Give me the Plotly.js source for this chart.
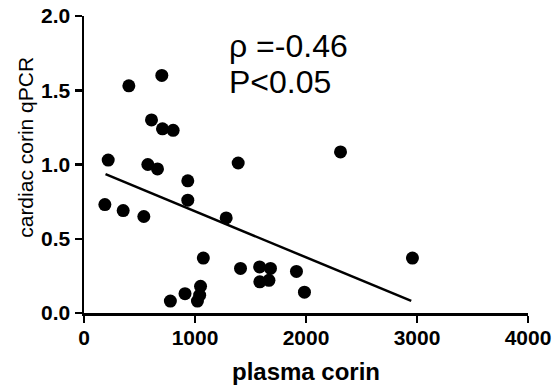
<!DOCTYPE html>
<html>
<head>
<meta charset="utf-8">
<script src="https://cdn.plot.ly/plotly-3.0.1.min.js"></script>
<style>html,body{margin:0;padding:0;background:#fff;}#chart{width:556px;height:389px;}</style>
</head>
<body>
<div id="chart"></div>
<script>
// Data
const plasmaCorin = [188, 218, 353, 404, 539, 575, 608, 662, 701, 707, 778, 803, 910, 935, 935,
                     1022, 1042, 1050, 1075, 1281, 1389, 1410, 1582, 1584, 1666, 1680, 1914, 1986, 2311, 2959];
const cardiacCorin = [0.73, 1.03, 0.69, 1.53, 0.65, 1.00, 1.30, 0.97, 1.60, 1.24, 0.08, 1.23, 0.13, 0.89, 0.76,
                      0.08, 0.12, 0.18, 0.37, 0.64, 1.01, 0.30, 0.31, 0.21, 0.22, 0.30, 0.28, 0.14, 1.085, 0.37];
const fitX = [194, 2948];
const fitY = [0.935, 0.081];
const statLines = ["ρ =-0.46", "P<0.05"];
const xTitle = "plasma corin";
const yTitle = "cardiac corin qPCR";

const FONT = "Liberation Sans, Arial, sans-serif";

const traces = [
  {
    x: plasmaCorin, y: cardiacCorin, type: "scatter", mode: "markers",
    marker: {color: "#000", size: 13, line: {width: 0}},
    cliponaxis: false, hoverinfo: "skip"
  },
  {
    x: fitX, y: fitY, type: "scatter", mode: "lines",
    line: {color: "#000", width: 2.5}, hoverinfo: "skip"
  }
];

const axisCommon = {
  showgrid: false, zeroline: false, showline: true, linecolor: "#000", linewidth: 2.5,
  ticks: "outside", ticklen: 7, tickwidth: 2.5, tickcolor: "#000",
  tickfont: {family: FONT, size: 21, color: "#000", weight: "bold"},
  fixedrange: true
};

const layout = {
  width: 556, height: 389,
  margin: {l: 83.5, r: 28.3, t: 15.7, b: 76.3},
  paper_bgcolor: "#fff", plot_bgcolor: "#fff",
  showlegend: false,
  xaxis: Object.assign({}, axisCommon, {
    range: [0, 4000], dtick: 1000, tick0: 0, ticklabelstandoff: -3,
    title: {text: xTitle, font: {family: FONT, size: 24, color: "#000", weight: "bold"}, standoff: 16}
  }),
  yaxis: Object.assign({}, axisCommon, {
    range: [0, 2], dtick: 0.5, tick0: 0, tickformat: ".1f"
  }),
  annotations: [
    {text: yTitle, xref: "paper", yref: "paper", x: -0.1317, y: 0.558,
     xanchor: "center", yanchor: "middle", textangle: -90, showarrow: false,
     font: {family: FONT, size: 21, color: "#000"}},
    {text: statLines[0], xref: "paper", yref: "paper", x: 0.322, y: 0.898,
     xanchor: "left", yanchor: "middle", showarrow: false,
     font: {family: FONT, size: 32, color: "#000"}},
    {text: statLines[1], xref: "paper", yref: "paper", x: 0.322, y: 0.777,
     xanchor: "left", yanchor: "middle", showarrow: false,
     font: {family: FONT, size: 32, color: "#000"}}
  ]
};

Plotly.newPlot("chart", traces, layout, {displayModeBar: false, staticPlot: true});
</script>
</body>
</html>
